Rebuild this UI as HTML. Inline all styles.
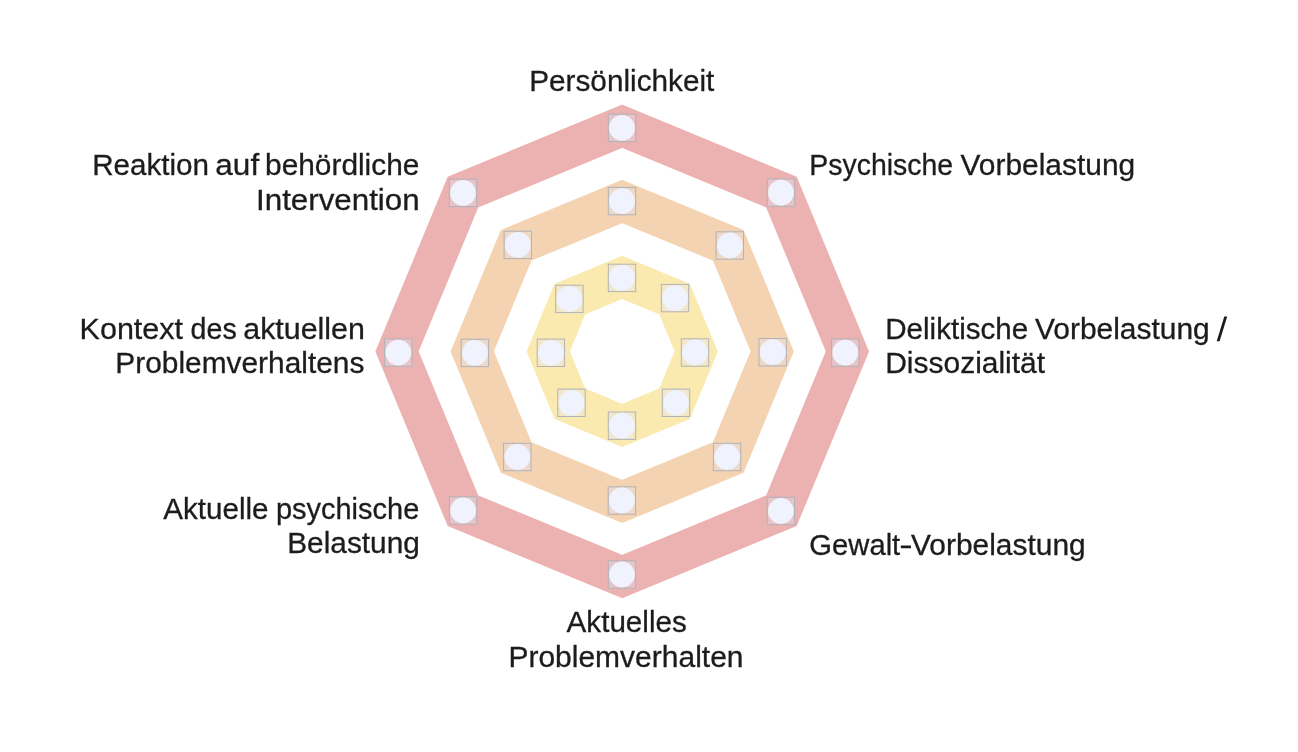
<!DOCTYPE html>
<html><head><meta charset="utf-8"><style>
html,body{margin:0;padding:0;background:#fff;width:1298px;height:752px;overflow:hidden}
svg{display:block;will-change:transform}
text{font-family:"Liberation Sans",sans-serif;font-size:29px;fill:#1c1c1c;stroke:#1c1c1c;stroke-width:0.3px}
</style></head><body>
<svg width="1298" height="752" viewBox="0 0 1298 752">
<polygon points="622.20,126.20 781.44,192.16 847.40,351.40 781.44,510.64 622.20,576.60 462.96,510.64 397.00,351.40 462.96,192.16" fill="none" stroke="#ecb2b2" stroke-width="40" stroke-linejoin="miter"/>
<polygon points="622.20,201.40 728.27,245.33 772.20,351.40 728.27,457.47 622.20,501.40 516.13,457.47 472.20,351.40 516.13,245.33" fill="none" stroke="#f4d3b2" stroke-width="40" stroke-linejoin="miter"/>
<polygon points="622.20,277.40 674.53,299.07 696.20,351.40 674.53,403.73 622.20,425.40 569.87,403.73 548.20,351.40 569.87,299.07" fill="none" stroke="#fbeab0" stroke-width="40" stroke-linejoin="miter"/>
<rect x="608.30" y="114.20" width="27.4" height="27.4" fill="rgba(225,225,240,0.35)" stroke="#b0b3ba" stroke-width="1"/>
<circle cx="622.00" cy="127.90" r="12.9" fill="#f0f3fd"/>
<rect x="767.30" y="178.90" width="27.4" height="27.4" fill="rgba(225,225,240,0.35)" stroke="#b0b3ba" stroke-width="1"/>
<circle cx="781.00" cy="192.60" r="12.9" fill="#f0f3fd"/>
<rect x="831.60" y="338.90" width="27.4" height="27.4" fill="rgba(225,225,240,0.35)" stroke="#b0b3ba" stroke-width="1"/>
<circle cx="845.30" cy="352.60" r="12.9" fill="#f0f3fd"/>
<rect x="767.20" y="497.30" width="27.4" height="27.4" fill="rgba(225,225,240,0.35)" stroke="#b0b3ba" stroke-width="1"/>
<circle cx="780.90" cy="511.00" r="12.9" fill="#f0f3fd"/>
<rect x="608.30" y="560.80" width="27.4" height="27.4" fill="rgba(225,225,240,0.35)" stroke="#b0b3ba" stroke-width="1"/>
<circle cx="622.00" cy="574.50" r="12.9" fill="#f0f3fd"/>
<rect x="449.40" y="496.80" width="27.4" height="27.4" fill="rgba(225,225,240,0.35)" stroke="#b0b3ba" stroke-width="1"/>
<circle cx="463.10" cy="510.50" r="12.9" fill="#f0f3fd"/>
<rect x="384.60" y="338.90" width="27.4" height="27.4" fill="rgba(225,225,240,0.35)" stroke="#b0b3ba" stroke-width="1"/>
<circle cx="398.30" cy="352.60" r="12.9" fill="#f0f3fd"/>
<rect x="449.30" y="179.20" width="27.4" height="27.4" fill="rgba(225,225,240,0.35)" stroke="#b0b3ba" stroke-width="1"/>
<circle cx="463.00" cy="192.90" r="12.9" fill="#f0f3fd"/>
<rect x="608.30" y="187.40" width="27.4" height="27.4" fill="rgba(225,225,240,0.35)" stroke="#b0b3ba" stroke-width="1"/>
<circle cx="622.00" cy="201.10" r="12.9" fill="#f0f3fd"/>
<rect x="716.10" y="231.80" width="27.4" height="27.4" fill="rgba(225,225,240,0.35)" stroke="#b0b3ba" stroke-width="1"/>
<circle cx="729.80" cy="245.50" r="12.9" fill="#f0f3fd"/>
<rect x="759.00" y="338.50" width="27.4" height="27.4" fill="rgba(225,225,240,0.35)" stroke="#b0b3ba" stroke-width="1"/>
<circle cx="772.70" cy="352.20" r="12.9" fill="#f0f3fd"/>
<rect x="713.40" y="443.30" width="27.4" height="27.4" fill="rgba(225,225,240,0.35)" stroke="#b0b3ba" stroke-width="1"/>
<circle cx="727.10" cy="457.00" r="12.9" fill="#f0f3fd"/>
<rect x="608.20" y="486.80" width="27.4" height="27.4" fill="rgba(225,225,240,0.35)" stroke="#b0b3ba" stroke-width="1"/>
<circle cx="621.90" cy="500.50" r="12.9" fill="#f0f3fd"/>
<rect x="503.60" y="443.30" width="27.4" height="27.4" fill="rgba(225,225,240,0.35)" stroke="#b0b3ba" stroke-width="1"/>
<circle cx="517.30" cy="457.00" r="12.9" fill="#f0f3fd"/>
<rect x="461.20" y="339.20" width="27.4" height="27.4" fill="rgba(225,225,240,0.35)" stroke="#b0b3ba" stroke-width="1"/>
<circle cx="474.90" cy="352.90" r="12.9" fill="#f0f3fd"/>
<rect x="504.10" y="231.20" width="27.4" height="27.4" fill="rgba(225,225,240,0.35)" stroke="#b0b3ba" stroke-width="1"/>
<circle cx="517.80" cy="244.90" r="12.9" fill="#f0f3fd"/>
<rect x="608.30" y="264.20" width="27.4" height="27.4" fill="rgba(225,225,240,0.35)" stroke="#b0b3ba" stroke-width="1"/>
<circle cx="622.00" cy="277.90" r="12.9" fill="#f0f3fd"/>
<rect x="661.30" y="284.40" width="27.4" height="27.4" fill="rgba(225,225,240,0.35)" stroke="#b0b3ba" stroke-width="1"/>
<circle cx="675.00" cy="298.10" r="12.9" fill="#f0f3fd"/>
<rect x="681.30" y="338.80" width="27.4" height="27.4" fill="rgba(225,225,240,0.35)" stroke="#b0b3ba" stroke-width="1"/>
<circle cx="695.00" cy="352.50" r="12.9" fill="#f0f3fd"/>
<rect x="662.30" y="389.10" width="27.4" height="27.4" fill="rgba(225,225,240,0.35)" stroke="#b0b3ba" stroke-width="1"/>
<circle cx="676.00" cy="402.80" r="12.9" fill="#f0f3fd"/>
<rect x="608.30" y="412.00" width="27.4" height="27.4" fill="rgba(225,225,240,0.35)" stroke="#b0b3ba" stroke-width="1"/>
<circle cx="622.00" cy="425.70" r="12.9" fill="#f0f3fd"/>
<rect x="557.80" y="389.10" width="27.4" height="27.4" fill="rgba(225,225,240,0.35)" stroke="#b0b3ba" stroke-width="1"/>
<circle cx="571.50" cy="402.80" r="12.9" fill="#f0f3fd"/>
<rect x="537.20" y="339.10" width="27.4" height="27.4" fill="rgba(225,225,240,0.35)" stroke="#b0b3ba" stroke-width="1"/>
<circle cx="550.90" cy="352.80" r="12.9" fill="#f0f3fd"/>
<rect x="555.70" y="285.20" width="27.4" height="27.4" fill="rgba(225,225,240,0.35)" stroke="#b0b3ba" stroke-width="1"/>
<circle cx="569.40" cy="298.90" r="12.9" fill="#f0f3fd"/>
<text transform="translate(529.24,91.1) scale(1.0256,1)">Persönlichkeit</text>
<text transform="translate(92.15,174.6) scale(1.0209,1)">Reaktion</text>
<text transform="translate(215.34,174.6) scale(1.0872,1)">auf</text>
<text transform="translate(265.04,174.6) scale(1.0296,1)">behördliche</text>
<text transform="translate(256.03,209.5) scale(1.0803,1)">Intervention</text>
<text transform="translate(809.35,174.6) scale(0.9804,1)">Psychische</text>
<text transform="translate(960.44,174.6) scale(1.0326,1)">Vorbelastung</text>
<text transform="translate(885.25,338.8) scale(1.0198,1)">Deliktische</text>
<text transform="translate(1034.94,338.8) scale(1.0332,1)">Vorbelastung</text>
<text transform="translate(885.22,373.0) scale(1.0336,1)">Dissozialität</text>
<text transform="translate(79.57,338.8) scale(1.0527,1)">Kontext</text>
<text transform="translate(190.57,338.8) scale(0.9865,1)">des</text>
<text transform="translate(243.29,338.8) scale(1.0478,1)">aktuellen</text>
<text transform="translate(115.32,373.0) scale(1.0304,1)">Problemverhaltens</text>
<text transform="translate(163.20,518.8) scale(1.0216,1)">Aktuelle</text>
<text transform="translate(275.90,518.8) scale(0.9996,1)">psychische</text>
<text transform="translate(287.23,553.0) scale(1.0281,1)">Belastung</text>
<text transform="translate(809.29,554.8) scale(1.0079,1)">Gewalt</text>
<text transform="translate(899.37,554.8) scale(1.3857,1)">-</text>
<text transform="translate(910.94,554.8) scale(1.0326,1)">Vorbelastung</text>
<text transform="translate(566.60,632.0) scale(1.0218,1)">Aktuelles</text>
<text transform="translate(508.41,666.9) scale(1.0345,1)">Problemverhalten</text>
<polygon points="1224.3,316.4 1227.2,316.4 1219.6,341.2 1216.7,341.2" fill="#1c1c1c"/>
</svg>
</body></html>
